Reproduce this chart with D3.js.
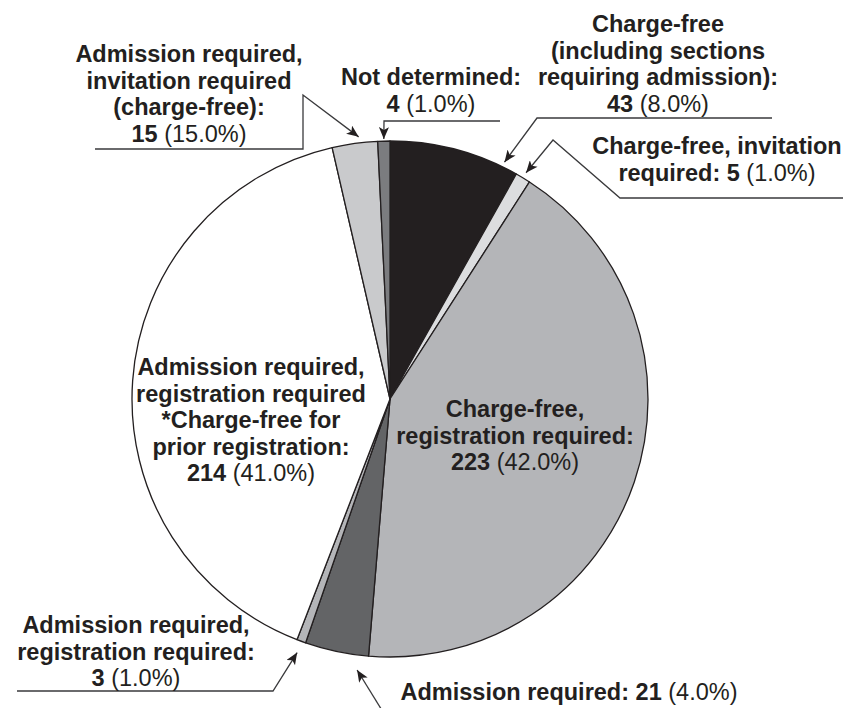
<!DOCTYPE html>
<html>
<head>
<meta charset="utf-8">
<script src="https://cdn.jsdelivr.net/npm/d3@7"></script>
<style>
  body { margin: 0; background: #fff; }
  svg text { font-family: "Liberation Sans", Arial, Helvetica, sans-serif; fill: #231f20; }
</style>
</head>
<body>
<div id="chart"></div>
<script>
// data, clockwise from 12 o'clock
var categories = [
  "Charge-free (including sections requiring admission)",
  "Charge-free, invitation required",
  "Charge-free, registration required",
  "Admission required",
  "Admission required, registration required",
  "Admission required, registration required *Charge-free for prior registration",
  "Admission required, invitation required (charge-free)",
  "Not determined"
];
var values = [43, 5, 223, 21, 3, 214, 15, 4];
var percents = ["8.0%", "1.0%", "42.0%", "4.0%", "1.0%", "41.0%", "15.0%", "1.0%"];
// label text, the value gets put on the last line
var labelLines = [
  ["Charge-free", "(including sections", "requiring admission):", ""],
  ["Charge-free, invitation", "required:"],
  ["Charge-free,", "registration required:", ""],
  ["Admission required:"],
  ["Admission required,", "registration required:", ""],
  ["Admission required,", "registration required", "*Charge-free for", "prior registration:", ""],
  ["Admission required,", "invitation required", "(charge-free):", ""],
  ["Not determined:", ""]
];
var colors = ["#231f20", "#dcdddf", "#b4b5b8", "#636466", "#b4b5b8", "#ffffff", "#c9cacc", "#7b7c7f"];

// layout stuff
var W = 865, H = 708;
var cx = 390, cy = 399, R = 258;
var lineH = 26.6;
var labelPos = [
  {x: 658, y: 32}, {x: 717, y: 154}, {x: 515, y: 417}, {x: 569, y: 700},
  {x: 136, y: 633}, {x: 251, y: 375}, {x: 189, y: 62}, {x: 431, y: 85}
];
// leader lines: elbow points then the arrow tip (frac = where in the slice, dr = gap off the rim)
var leaders = [
  {pts: [[772, 118], [537, 118]], frac: 0.88, dr: 5},
  {pts: [[843, 198], [620, 198], [553, 140]], frac: 0.5, dr: 6},
  null,
  {pts: [[383, 712]], frac: 0.15, dr: 15},
  {pts: [[17, 691], [273, 691]], frac: 0.5, dr: 12},
  null,
  {pts: [[95, 149], [303, 149], [303, 95]], frac: 0.6, dr: 6},
  {pts: [[500, 121], [384, 121]], frac: 0.5, dr: 2}
];

var svg = d3.select("#chart").append("svg")
  .attr("width", W)
  .attr("height", H);

svg.append("defs").append("marker")
  .attr("id", "arr")
  .attr("viewBox", "0 0 12 10")
  .attr("refX", 12).attr("refY", 5)
  .attr("markerWidth", 13).attr("markerHeight", 10)
  .attr("markerUnits", "userSpaceOnUse")
  .attr("orient", "auto")
  .append("path")
  .attr("d", "M0,0 L12,5 L0,10 L3,5 z")
  .attr("fill", "#231f20");

var pie = d3.pie().sort(null).value(function(d) { return d; });
var arcs = pie(values);
var arc = d3.arc().innerRadius(0).outerRadius(R);

var g = svg.append("g").attr("transform", "translate(" + cx + "," + cy + ")");
g.selectAll("path.slice")
  .data(arcs)
  .enter().append("path")
  .attr("class", "slice")
  .attr("d", arc)
  .attr("fill", function(d, i) { return colors[i]; })
  .attr("stroke", "#231f20")
  .attr("stroke-width", 1.3)
  .attr("stroke-linejoin", "round");

// leader lines with arrows
var line = d3.line();
leaders.forEach(function(ld, i) {
  if (!ld) return;
  var a = arcs[i];
  var ang = a.startAngle + (a.endAngle - a.startAngle) * ld.frac;
  var rr = R + ld.dr;
  var tip = [cx + rr * Math.sin(ang), cy - rr * Math.cos(ang)];
  svg.append("path")
    .attr("d", line(ld.pts.concat([tip])))
    .attr("fill", "none")
    .attr("stroke", "#3a3a3c")
    .attr("stroke-width", 1.3)
    .attr("marker-end", "url(#arr)");
});

// labels
labelLines.forEach(function(lines, i) {
  var p = labelPos[i];
  var t = svg.append("text")
    .attr("text-anchor", "middle")
    .attr("font-size", "23.5px");
  lines.forEach(function(ln, j) {
    var last = j == lines.length - 1;
    var ts = t.append("tspan")
      .attr("x", p.x)
      .attr("y", p.y + j * lineH);
    var boldTxt = last ? (ln ? ln + " " : "") + values[i] : ln;
    ts.append("tspan").attr("font-weight", "bold").text(boldTxt);
    if (last) {
      ts.append("tspan")
        .attr("font-weight", "normal")
        .text(" (" + percents[i] + ")");
    }
  });
});
</script>
</body>
</html>
